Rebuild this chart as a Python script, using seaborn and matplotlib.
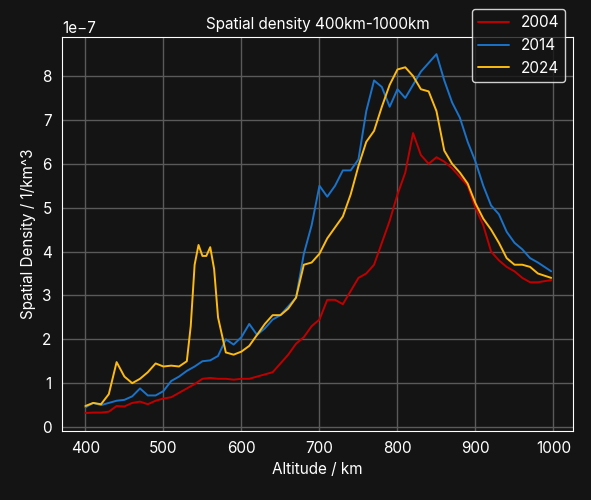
import numpy as np
import pandas as pd
import seaborn as sns
import matplotlib.pyplot as plt

# ---------------- Data (units of 1e-7 / km^3) ----------------
alt = [400, 410, 420, 430, 440, 450, 460, 470, 480, 490, 500, 510, 520, 530, 540, 550, 560, 570, 580, 590,
       600, 610, 620, 630, 640, 650, 660, 670, 680, 690, 700, 710, 720, 730, 740, 750, 760, 770, 780, 790,
       800, 810, 820, 830, 840, 850, 860, 870, 880, 890, 900, 910, 920, 930, 940, 950, 960, 970, 980, 997]
d2004 = [0.32, 0.33, 0.33, 0.35, 0.48, 0.47, 0.55, 0.58, 0.52, 0.6, 0.65, 0.68, 0.78, 0.88, 0.98, 1.1, 1.12, 1.1, 1.1, 1.08,
         1.1, 1.1, 1.15, 1.2, 1.25, 1.45, 1.65, 1.9, 2.05, 2.3, 2.45, 2.9, 2.9, 2.8, 3.1, 3.4, 3.5, 3.7, 4.2, 4.7,
         5.3, 5.8, 6.7, 6.2, 6.0, 6.15, 6.05, 5.9, 5.7, 5.5, 5.0, 4.6, 4.0, 3.8, 3.65, 3.55, 3.4, 3.3, 3.3, 3.35]
d2014 = [0.45, 0.55, 0.5, 0.55, 0.6, 0.62, 0.7, 0.88, 0.72, 0.72, 0.82, 1.05, 1.15, 1.28, 1.38, 1.5, 1.52, 1.62, 2.0, 1.88,
         2.05, 2.35, 2.1, 2.25, 2.45, 2.55, 2.75, 2.95, 3.95, 4.6, 5.5, 5.25, 5.5, 5.85, 5.85, 6.1, 7.2, 7.9, 7.75, 7.3,
         7.7, 7.5, 7.8, 8.1, 8.3, 8.5, 7.9, 7.4, 7.05, 6.5, 6.05, 5.5, 5.05, 4.85, 4.45, 4.2, 4.05, 3.85, 3.75, 3.55]
alt2024 = [400, 410, 420, 430, 440, 450, 460, 470, 480, 490, 500, 510, 520, 530, 535, 540, 545, 550, 555, 560, 565, 570,
           580, 590, 600, 610, 620, 630, 640, 650, 660, 670, 680, 690, 700, 710, 720, 730, 740, 750, 760, 770, 780, 790,
           800, 810, 820, 830, 840, 850, 860, 870, 880, 890, 900, 910, 920, 930, 940, 950, 960, 970, 980, 997]
d2024 = [0.48, 0.55, 0.52, 0.75, 1.48, 1.15, 1.0, 1.1, 1.25, 1.45, 1.38, 1.4, 1.38, 1.5, 2.3, 3.7, 4.15, 3.9, 3.9, 4.1, 3.6, 2.5,
         1.7, 1.65, 1.72, 1.85, 2.1, 2.35, 2.55, 2.55, 2.7, 2.95, 3.7, 3.75, 3.95, 4.3, 4.55, 4.8, 5.3, 5.95, 6.5, 6.75, 7.3, 7.8,
         8.15, 8.2, 8.0, 7.7, 7.65, 7.2, 6.3, 6.0, 5.8, 5.55, 5.1, 4.75, 4.5, 4.2, 3.85, 3.7, 3.7, 3.65, 3.5, 3.4]

df = pd.concat([
    pd.DataFrame({"alt": alt, "dens": np.array(d2004) * 1e-7, "year": "2004"}),
    pd.DataFrame({"alt": alt, "dens": np.array(d2014) * 1e-7, "year": "2014"}),
    pd.DataFrame({"alt": alt2024, "dens": np.array(d2024) * 1e-7, "year": "2024"}),
])

# ---------------- Style ----------------
bg = "#141414"
sns.set_style("darkgrid")
plt.rcParams.update({
    "font.family": ["Inter", "DejaVu Sans"],
    "figure.facecolor": bg, "axes.facecolor": bg, "savefig.facecolor": bg,
    "text.color": "white", "axes.labelcolor": "white",
    "xtick.color": "white", "ytick.color": "white",
    "axes.edgecolor": "white", "grid.color": "#5a5a5a",
})

fig = plt.figure(figsize=(5.91, 5.0), dpi=100)
ax = fig.add_axes([62 / 591, 69 / 500, 511 / 591, 394 / 500])
palette = {"2004": "#c00000", "2014": "#1a72c9", "2024": "#fdbb11"}
sns.lineplot(data=df, x="alt", y="dens", hue="year", palette=palette, ax=ax, linewidth=1.4)

ax.set_xlim(370, 1025)
ax.set_ylim(-0.09e-7, 8.89e-7)
ax.set_xticks(range(400, 1001, 100))
ax.grid(True, color="#5a5a5a", linewidth=1)
for s in ax.spines.values():
    s.set_visible(True)
    s.set_color("white")
ax.tick_params(axis="both", length=4, colors="white", labelsize=11)
ax.yaxis.get_offset_text().set_color("white")
ax.yaxis.get_offset_text().set_fontsize(11)
ax.set_xlabel("Altitude / km", fontsize=11)
ax.set_ylabel("Spatial Density / 1/km^3", fontsize=11)
ax.set_title("Spatial density 400km-1000km", fontsize=11, color="white")

leg = ax.legend(loc="upper right", bbox_to_anchor=(1.0, 1.09), frameon=True, fontsize=11,
                facecolor=bg, edgecolor="white", labelcolor="white", handlelength=2)
leg.set_title(None)

fig.savefig("out.png", dpi=100)
